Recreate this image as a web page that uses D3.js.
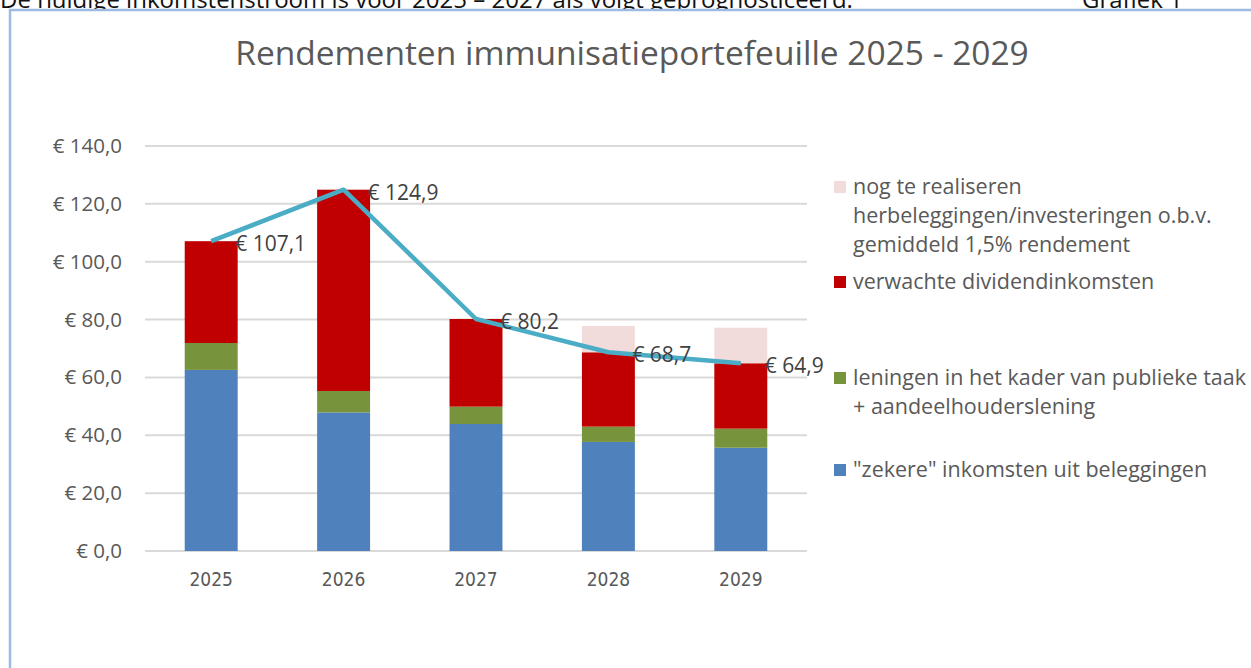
<!DOCTYPE html>
<html>
  <head>
    <title>Rendementen immunisatieportefeuille</title>
    <script src="https://d3js.org/d3.v7.min.js"></script>
    <style>
      body { margin: 0; background: #fff; }
      text { font-family: "Open Sans", Lato, sans-serif; }
    </style>
  </head>
  <body>
    <div id="chart"></div>
    <script>
      // data
      var years = ['2025', '2026', '2027', '2028', '2029'];
      var zekere = [62.6, 47.9, 43.9, 37.7, 35.7];
      var leningen = [9.3, 7.4, 6.0, 5.3, 6.6];
      var dividend = [35.2, 69.6, 30.3, 25.7, 22.6];
      var herbeleggingen = [0, 0, 0, 9.1, 12.3];
      var totaal = [107.1, 124.9, 80.2, 68.7, 64.9];
      var yTicks = [0, 20, 40, 60, 80, 100, 120, 140];

      var seriesKeys = ['zekere', 'leningen', 'dividend', 'herbeleggingen'];
      var colors = {
        zekere: '#4f81bd',
        leningen: '#77933c',
        dividend: '#c00000',
        herbeleggingen: '#f2dcdb'
      };

      var table = years.map(function (y, i) {
        return {
          year: y,
          zekere: zekere[i],
          leningen: leningen[i],
          dividend: dividend[i],
          herbeleggingen: herbeleggingen[i]
        };
      });

      var width = 1251, height = 668;
      var svg = d3.select('#chart').append('svg')
        .attr('width', width)
        .attr('height', height);

      // line of page text above the chart (cut off at the top, as in the scan)
      svg.append('text')
        .attr('x', 0).attr('y', 8)
        .style('font-size', '24px').style('fill', '#111')
        .text('De huidige inkomstenstroom is voor 2025 – 2027 als volgt geprognosticeerd.');
      svg.append('text')
        .attr('x', 1082).attr('y', 8)
        .style('font-size', '24px').style('fill', '#111')
        .text('Grafiek 1');

      // chart frame
      svg.append('rect')
        .attr('x', 10).attr('y', 10)
        .attr('width', 1260).attr('height', 680)
        .attr('fill', 'white')
        .attr('stroke', '#9dbbe0').attr('stroke-width', 2.5);

      svg.append('text')
        .attr('x', 632).attr('y', 65)
        .attr('text-anchor', 'middle')
        .style('font-size', '33.5px').style('fill', '#595959')
        .text('Rendementen immunisatieportefeuille 2025 - 2029');

      var x = d3.scaleBand().domain(years).range([145, 807]).paddingInner(0.6).paddingOuter(0.3);
      var y = d3.scaleLinear().domain([0, 140]).range([551, 146]);

      // grid
      svg.append('g').selectAll('line')
        .data(yTicks).enter().append('line')
        .attr('x1', 145).attr('x2', 807)
        .attr('y1', function (d) { return y(d); })
        .attr('y2', function (d) { return y(d); })
        .attr('stroke', '#d9d9d9').attr('stroke-width', 2);

      var fmt = function (v) { return '€ ' + d3.format('.1f')(v).replace('.', ','); };

      var yAxis = svg.append('g')
        .attr('transform', 'translate(145,0)')
        .call(d3.axisLeft(y).tickValues(yTicks).tickSize(0).tickPadding(23).tickFormat(fmt));
      yAxis.select('.domain').remove();
      yAxis.selectAll('text').style('font-size', '20.5px').style('fill', '#595959')
        .style('font-family', '"Open Sans", sans-serif');

      var xAxis = svg.append('g')
        .attr('transform', 'translate(0,551)')
        .call(d3.axisBottom(x).tickSize(0).tickPadding(22));
      xAxis.select('.domain').remove();
      xAxis.selectAll('text').style('font-size', '19px').style('fill', '#595959')
        .style('font-family', '"Liberation Sans Narrow", "DejaVu Sans Condensed", sans-serif');

      // stacked bars
      var stack = d3.stack().keys(seriesKeys)(table);
      svg.append('g').selectAll('g')
        .data(stack).enter().append('g')
        .attr('fill', function (d) { return colors[d.key]; })
        .selectAll('rect')
        .data(function (d) { return d; }).enter().append('rect')
        .attr('x', function (d) { return x(d.data.year); })
        .attr('width', x.bandwidth())
        .attr('y', function (d) { return y(d[1]); })
        .attr('height', function (d) { return y(d[0]) - y(d[1]); });

      // total line
      var cx = function (d, i) { return x(years[i]) + x.bandwidth() / 2; };
      var line = d3.line()
        .x(cx)
        .y(function (d) { return y(d); });
      svg.append('path')
        .datum(totaal)
        .attr('d', line)
        .attr('fill', 'none')
        .attr('stroke', '#4bacc6')
        .attr('stroke-width', 4.5)
        .attr('stroke-linejoin', 'round');

      svg.append('g').selectAll('text')
        .data(totaal).enter().append('text')
        .attr('x', function (d, i) { return cx(d, i) + 24; })
        .attr('y', function (d) { return y(d) + 10; })
        .style('font-size', '21px').style('fill', '#404040')
        .text(fmt);

      // legend
      var legend = [
        { key: 'herbeleggingen', lines: ['nog te realiseren', 'herbeleggingen/investeringen o.b.v.', 'gemiddeld 1,5% rendement'], y: 187 },
        { key: 'dividend', lines: ['verwachte dividendinkomsten'], y: 282 },
        { key: 'leningen', lines: ['leningen in het kader van publieke taak', '+ aandeelhouderslening'], y: 378 },
        { key: 'zekere', lines: ['"zekere" inkomsten uit beleggingen'], y: 470 }
      ];
      var lg = svg.append('g').selectAll('g')
        .data(legend).enter().append('g');
      lg.append('rect')
        .attr('x', 834).attr('width', 12).attr('height', 12)
        .attr('y', function (d) { return d.y - 6; })
        .attr('fill', function (d) { return colors[d.key]; });
      lg.append('text')
        .attr('x', 853)
        .attr('y', function (d) { return d.y + 7; })
        .style('font-size', '21.5px').style('fill', '#595959')
        .selectAll('tspan')
        .data(function (d) { return d.lines; }).enter().append('tspan')
        .attr('x', 853)
        .attr('dy', function (d, i) { return i === 0 ? 0 : 29; })
        .text(function (d) { return d; });
    </script>
  </body>
</html>
